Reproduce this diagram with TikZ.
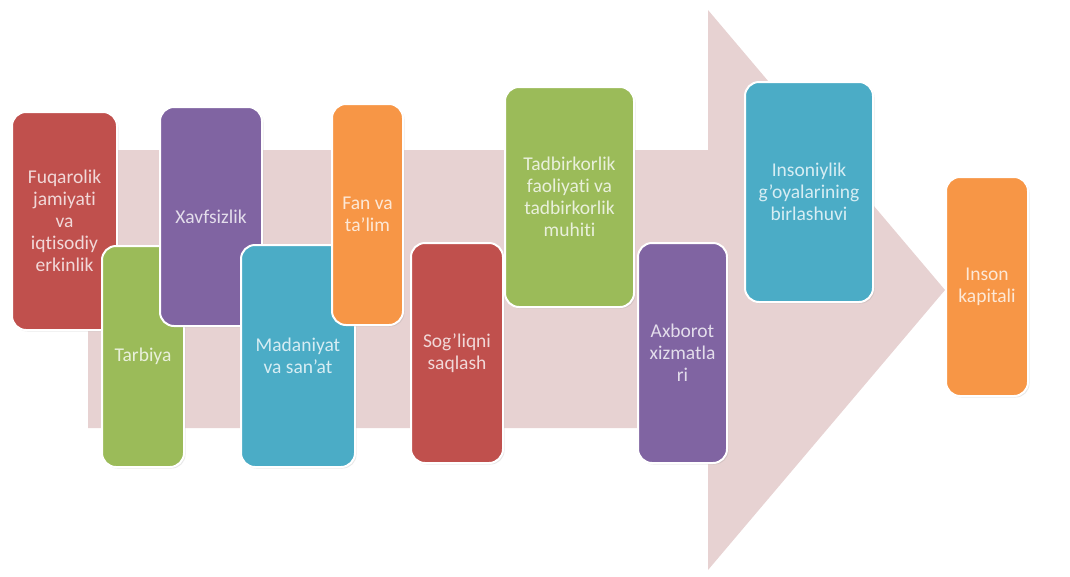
\documentclass[tikz,border=0pt]{standalone}
\usepackage{fontspec}
\setmainfont{Carlito}[Ligatures={TeX,NoCommon,NoRequired,NoContextual},Contextuals=NoAlternate]
\usetikzlibrary{shadows}
\definecolor{ored}{HTML}{C0504D}
\definecolor{ogreen}{HTML}{9BBB59}
\definecolor{opurple}{HTML}{8064A2}
\definecolor{oteal}{HTML}{4BACC6}
\definecolor{oorange}{HTML}{F79646}
\definecolor{arrowpink}{RGB}{231,210,210}
\begin{document}
\begin{tikzpicture}[x=1pt,y=-1pt,
  box/.style={draw=white, line width=2pt, rounded corners=14pt, align=center,
    inner sep=0pt, font=\fontsize{19.5}{22}\selectfont,
    drop shadow={opacity=0.18, shadow xshift=1.5pt, shadow yshift=-1.5pt}},
  redbox/.style={box, fill=ored, text=ored!22!white},
  greenbox/.style={box, fill=ogreen, text=ogreen!22!white},
  purplebox/.style={box, fill=opurple, text=opurple!22!white},
  tealbox/.style={box, fill=oteal, text=oteal!22!white},
  orangebox/.style={box, fill=oorange, text=oorange!22!white}]
\useasboundingbox (0,0) rectangle (1070,576);
% big arrow
\fill[arrowpink] (88,150) -- (708,150) -- (708,10) -- (945,290) -- (708,570)
  -- (708,428) -- (88,428) -- cycle;
% boxes
\node[redbox, minimum width=105pt, minimum height=218pt] (b1) at (64.5,221)
  {Fuqarolik\\jamiyati\\va\\iqtisodiy\\erkinlik};
\node[greenbox, minimum width=82pt, minimum height=221pt] (b2) at (143,356.5)
  {Tarbiya};
\node[purplebox, minimum width=102pt, minimum height=219pt] (b3) at (211,216.5)
  {Xavfsizlik};
\node[tealbox, minimum width=114pt, minimum height=222pt] (b4) at (298,356)
  {Madaniyat\\va san'at};
\node[orangebox, minimum width=71pt, minimum height=221pt] (b5) at (367.5,214.5)
  {Fan va\\ta'lim};
\node[redbox, minimum width=92pt, minimum height=220pt] (b6) at (457,353)
  {Sog'liqni\\saqlash};
\node[greenbox, minimum width=129pt, minimum height=220pt] (b7) at (569.5,197)
  {Tadbirkorlik\\faoliyati va\\tadbirkorlik\\muhiti};
\node[purplebox, minimum width=89pt, minimum height=220pt] (b8) at (682.5,353)
  {Axborot\\xizmatla\\ri};
\node[tealbox, minimum width=128pt, minimum height=220pt] (b9) at (809,192)
  {Insoniylik\\g'oyalarining\\birlashuvi};
\node[orangebox, minimum width=82pt, minimum height=219pt] (b10) at (987,286.5)
  {Inson\\kapitali};
\end{tikzpicture}
\end{document}
